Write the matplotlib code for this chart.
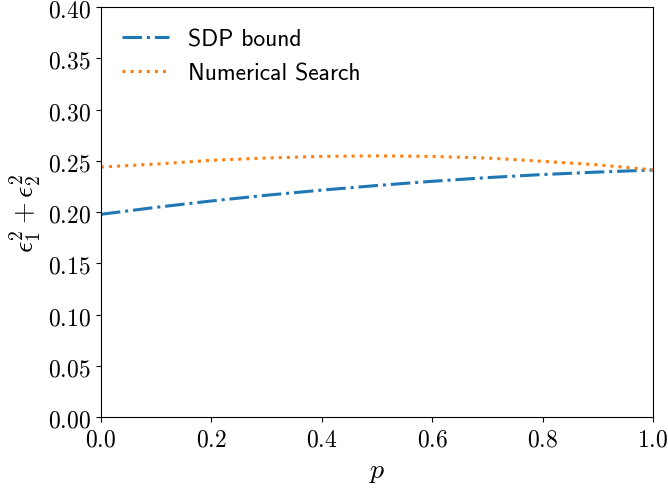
import matplotlib
matplotlib.use("Agg")
import matplotlib.pyplot as plt
from matplotlib.ticker import FuncFormatter

p = [0.0, 0.1, 0.2, 0.3, 0.4, 0.5, 0.6, 0.7, 0.8, 0.9, 1.0]
sdp_bound = [0.1978, 0.2046, 0.2108, 0.2164, 0.2214, 0.2259, 0.2300, 0.2336, 0.2366, 0.2390, 0.2410]
numerical_search = [0.2439, 0.2468, 0.2505, 0.2527, 0.2543, 0.2548, 0.2543, 0.2527, 0.2495, 0.2461, 0.2412]

plt.rcParams['mathtext.fontset'] = 'cm'

fig = plt.figure(figsize=(6.68, 4.89), dpi=100)
ax = fig.add_axes([0.151, 0.145, 0.8265, 0.8386])

ax.plot(p, sdp_bound, linestyle='-.', color='#1f77b4', lw=2.2, label='SDP bound')
ax.plot(p, numerical_search, linestyle=':', color='#ff7f0e', lw=2.2, label='Numerical Search')

ax.set_xlim(0, 1)
ax.set_ylim(0, 0.4)
ax.set_xticks([0.0, 0.2, 0.4, 0.6, 0.8, 1.0])
ax.set_yticks([0.0, 0.05, 0.10, 0.15, 0.20, 0.25, 0.30, 0.35, 0.40])
ax.xaxis.set_major_formatter(FuncFormatter(lambda v, _: r'$%.1f$' % v))
ax.yaxis.set_major_formatter(FuncFormatter(lambda v, _: r'$%.2f$' % v))
ax.tick_params(labelsize=17)

ax.set_xlabel(r'$p$', fontsize=20)
ax.set_ylabel(r'$\epsilon_1^2+\epsilon_2^2$', fontsize=20)

ax.legend(loc='upper left', frameon=False, handlelength=2.0,
          prop={'family': 'cmss10', 'size': 17})

fig.savefig('out.png', dpi=100)
